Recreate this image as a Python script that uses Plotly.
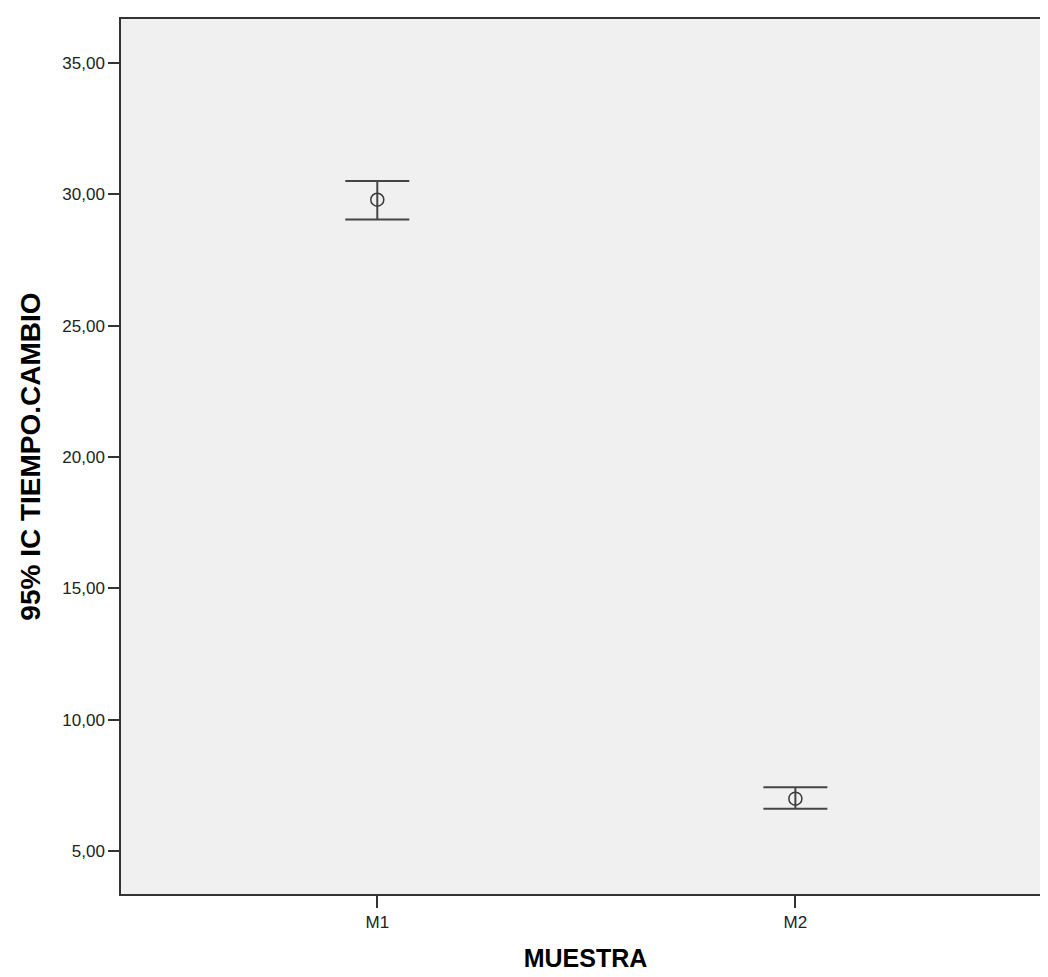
import plotly.graph_objects as go

categories = ["M1", "M2"]
means = [29.79, 6.99]
upper = [30.50, 7.42]
lower = [29.04, 6.61]

y_ticks = [5, 10, 15, 20, 25, 30, 35]
y_tick_labels = ["5,00", "10,00", "15,00", "20,00", "25,00", "30,00", "35,00"]

err_plus = [u - m for u, m in zip(upper, means)]
err_minus = [m - l for m, l in zip(means, lower)]

fig = go.Figure()
fig.add_trace(go.Scatter(
    x=categories,
    y=means,
    mode="markers",
    marker=dict(symbol="circle-open", size=13, color="#3a3a3a", line=dict(width=1.5, color="#3a3a3a")),
    error_y=dict(type="data", symmetric=False, array=err_plus, arrayminus=err_minus,
                 color="#454545", thickness=2, width=32),
    showlegend=False,
))

fig.update_layout(
    width=1048, height=977,
    margin=dict(l=113, r=4, t=11, b=91),
    paper_bgcolor="white",
    plot_bgcolor="#F0F0F0",
    font=dict(family="Liberation Sans, Arial, sans-serif", color="#222"),
)
fig.update_xaxes(
    type="category", range=[-0.613, 1.609],
    showgrid=False, zeroline=False,
    showline=True, linecolor="#333", linewidth=1.5, mirror=True,
    ticks="outside", ticklen=12, tickwidth=1.5, tickcolor="#333",
    tickfont=dict(size=17, color="#222"),
    title=dict(text="<b>MUESTRA</b>", font=dict(size=25, color="black"), standoff=18),
)
fig.update_yaxes(
    range=[3.36, 36.67],
    tickvals=y_ticks, ticktext=y_tick_labels,
    showgrid=False, zeroline=False,
    showline=True, linecolor="#333", linewidth=1.5, mirror=True,
    ticks="outside", ticklen=11, tickwidth=1.5, tickcolor="#333",
    tickfont=dict(size=17, color="#222"),
    title=dict(text="<b>95% IC TIEMPO.CAMBIO</b>", font=dict(size=28, color="black"), standoff=14),
)

fig.write_html("out.html")
